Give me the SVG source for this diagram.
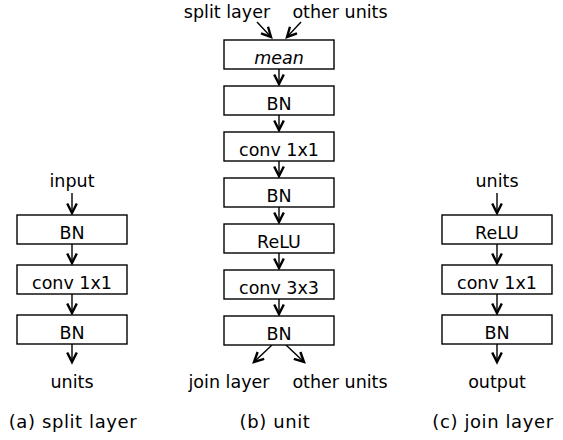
<svg xmlns="http://www.w3.org/2000/svg" width="563" height="440" viewBox="0 0 563 440">
<style>
.box{fill:#fff;stroke:#000;stroke-width:1.4}
.t{font-family:"DejaVu Sans",sans-serif;font-size:17.5px;fill:#000;text-anchor:middle}
.it{font-style:italic}
.cap{font-family:"DejaVu Sans",sans-serif;font-size:18px;letter-spacing:0.6px;fill:#000;text-anchor:middle}
.ln{stroke:#000;stroke-width:1.4;fill:none;marker-end:url(#ah)}
</style>
<defs>
<marker id="ah" markerUnits="userSpaceOnUse" markerWidth="16" markerHeight="16" viewBox="-13 -8 16 16" refX="0" refY="0" orient="auto" overflow="visible">
<path d="M-9.5,-4.8 L0,0 L-9.5,4.8" fill="none" stroke="#000" stroke-width="2.4" stroke-linejoin="miter"/>
</marker>
</defs>
<rect width="563" height="440" fill="#fff"/>
<g id="connectors">
<line class="ln" x1="72" y1="193" x2="72" y2="213"/>
<line class="ln" x1="72" y1="244" x2="72" y2="263"/>
<line class="ln" x1="72" y1="294" x2="72" y2="313"/>
<line class="ln" x1="72" y1="344" x2="72" y2="362"/>
<line class="ln" x1="257" y1="22" x2="271" y2="37"/>
<line class="ln" x1="301" y1="22" x2="287" y2="37"/>
<line class="ln" x1="279" y1="69" x2="279" y2="84"/>
<line class="ln" x1="279" y1="115" x2="279" y2="130"/>
<line class="ln" x1="279" y1="161" x2="279" y2="176"/>
<line class="ln" x1="279" y1="207" x2="279" y2="222"/>
<line class="ln" x1="279" y1="253" x2="279" y2="268"/>
<line class="ln" x1="279" y1="299" x2="279" y2="314"/>
<line class="ln" x1="272" y1="345" x2="254" y2="362"/>
<line class="ln" x1="286" y1="345" x2="304" y2="362"/>
<line class="ln" x1="497" y1="193" x2="497" y2="213"/>
<line class="ln" x1="497" y1="244" x2="497" y2="263"/>
<line class="ln" x1="497" y1="294" x2="497" y2="313"/>
<line class="ln" x1="497" y1="344" x2="497" y2="362"/>
</g>
<g id="split-input"><text class="t" x="72" y="187">input</text></g>
<g id="split-bn1"><rect class="box" x="17" y="215" width="110" height="29"/><text class="t" x="72" y="238.5">BN</text></g>
<g id="split-conv"><rect class="box" x="17" y="265" width="110" height="29"/><text class="t" x="72" y="288.5">conv 1x1</text></g>
<g id="split-bn2"><rect class="box" x="17" y="315" width="110" height="29"/><text class="t" x="72" y="338.5">BN</text></g>
<g id="split-units"><text class="t" x="72" y="388">units</text></g>
<g id="cap-a"><text class="cap" x="73" y="428">(a) split layer</text></g>

<g id="unit-in"><text class="t" x="227" y="18">split layer</text><text class="t" x="340" y="18">other units</text></g>
<g id="unit-mean"><rect class="box" x="224" y="40" width="110" height="29"/><text class="t it" x="279" y="63.5">mean</text></g>
<g id="unit-bn1"><rect class="box" x="224" y="86" width="110" height="29"/><text class="t" x="279" y="109.5">BN</text></g>
<g id="unit-conv1"><rect class="box" x="224" y="132" width="110" height="29"/><text class="t" x="279" y="155.5">conv 1x1</text></g>
<g id="unit-bn2"><rect class="box" x="224" y="178" width="110" height="29"/><text class="t" x="279" y="201.5">BN</text></g>
<g id="unit-relu"><rect class="box" x="224" y="224" width="110" height="29"/><text class="t" x="279" y="247.5">ReLU</text></g>
<g id="unit-conv3"><rect class="box" x="224" y="270" width="110" height="29"/><text class="t" x="279" y="293.5">conv 3x3</text></g>
<g id="unit-bn3"><rect class="box" x="224" y="316" width="110" height="29"/><text class="t" x="279" y="339.5">BN</text></g>
<g id="unit-out"><text class="t" x="229" y="388">join layer</text><text class="t" x="340" y="388">other units</text></g>
<g id="cap-b"><text class="cap" x="275" y="428">(b) unit</text></g>

<g id="join-units"><text class="t" x="497" y="187">units</text></g>
<g id="join-relu"><rect class="box" x="442" y="215" width="110" height="29"/><text class="t" x="497" y="238.5">ReLU</text></g>
<g id="join-conv"><rect class="box" x="442" y="265" width="110" height="29"/><text class="t" x="497" y="288.5">conv 1x1</text></g>
<g id="join-bn"><rect class="box" x="442" y="315" width="110" height="29"/><text class="t" x="497" y="338.5">BN</text></g>
<g id="join-output"><text class="t" x="497" y="388">output</text></g>
<g id="cap-c"><text class="cap" x="493" y="428">(c) join layer</text></g>
</svg>
